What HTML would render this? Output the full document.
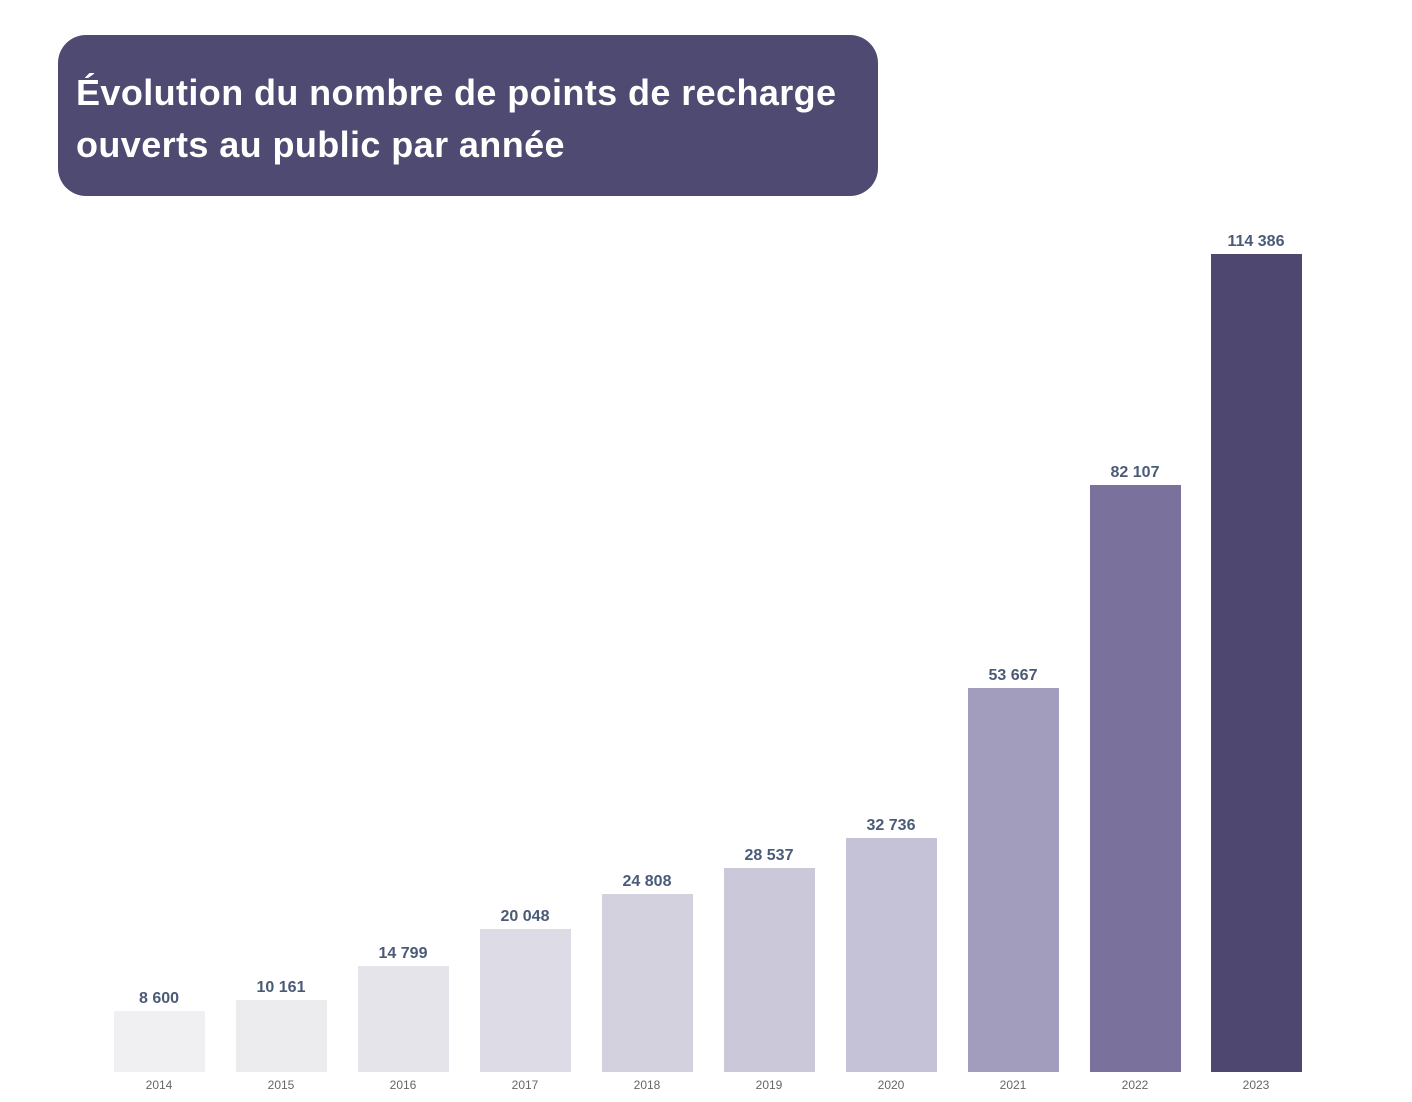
<!DOCTYPE html>
<html><head><meta charset="utf-8"><style>
body{margin:0;width:1412px;height:1102px;background:#fff;position:relative;overflow:hidden;font-family:"Liberation Sans",sans-serif}
.t{position:absolute;left:58px;top:35px;width:820px;height:161px;background:#4f4a72;border-radius:28px;color:#fff;font-weight:bold;font-size:36px;line-height:52px;box-sizing:border-box;padding:32px 0 0 18px;letter-spacing:0.4px;white-space:nowrap}
.b{position:absolute;width:91px}
.v{position:absolute;width:120px;text-align:center;font-weight:bold;font-size:16px;color:#4a5b78}
.y{position:absolute;top:1078px;width:120px;text-align:center;font-size:12px;color:#666}
</style></head><body>
<div class="t">Évolution du nombre de points de recharge<br>ouverts au public par année</div>
<div id="c"></div>
<script>
var d=[[114,1011,"#f0f0f2","8 600","2014"],[236,1000,"#ececef","10 161","2015"],[358,966,"#e5e4eb","14 799","2016"],[480,929,"#dddbe5","20 048","2017"],[602,894,"#d3d1de","24 808","2018"],[724,868,"#cbc8da","28 537","2019"],[846,838,"#c5c1d6","32 736","2020"],[968,688,"#a39dbd","53 667","2021"],[1090,485,"#7a729c","82 107","2022"],[1211,254,"#4e4870","114 386","2023"]];
var h="";d.forEach(function(e){h+='<div class="b" style="left:'+e[0]+'px;top:'+e[1]+'px;height:'+(1072-e[1])+'px;background:'+e[2]+'"></div><div class="v" style="left:'+(e[0]-15)+'px;top:'+(e[1]-21)+'px">'+e[3]+'</div><div class="y" style="left:'+(e[0]-15)+'px">'+e[4]+'</div>';});
document.getElementById("c").innerHTML=h;
</script>
</body></html>
